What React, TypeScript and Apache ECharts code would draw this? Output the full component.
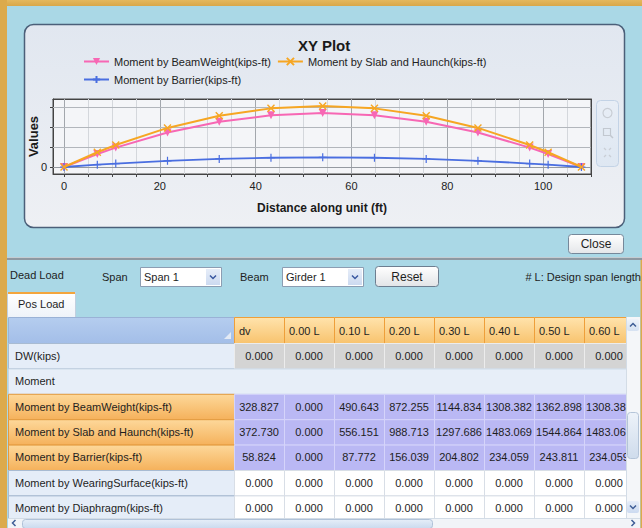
import React, { useEffect, useRef } from 'react';
import * as echarts from 'echarts';

// ---------- chart data ----------
const stationsFt = [0, 6.95, 10.8, 21.6, 32.4, 43.2, 54, 64.8, 75.6, 86.4, 97.2, 101.05, 108];
const momentBeamWeight = [0, 328.827, 490.643, 872.255, 1144.834, 1308.382, 1362.898, 1308.382, 1144.834, 872.255, 490.643, 328.827, 0];
const momentSlabHaunch = [0, 372.73, 556.151, 988.713, 1297.686, 1483.069, 1544.864, 1483.069, 1297.686, 988.713, 556.151, 372.73, 0];
const momentBarrier = [0, 58.824, 87.772, 156.039, 204.802, 234.059, 243.811, 234.059, 204.802, 156.039, 87.772, 58.824, 0];
const seriesNames = [
  'Moment by BeamWeight(kips-ft)',
  'Moment by Slab and Haunch(kips-ft)',
  'Moment by Barrier(kips-ft)',
];
const xLabelValues = [0, 20, 40, 60, 80, 100];
const xTickValues = [0, 5, 10, 15, 20, 25, 30, 35, 40, 45, 50, 55, 60, 65, 70, 75, 80, 85, 90, 95, 100, 105, 110];
const xMajorGrid = [0, 20, 40, 60, 80, 100];
const xMinorGrid = [5, 10, 15, 25, 30, 35, 45, 50, 55, 65, 70, 75, 85, 90, 95, 105];
const yTickValues = [0, 500, 1000, 1500];
const yLabelValues = [0];

// ---------- table data ----------
const tableColumns = ['dv', '0.00 L', '0.10 L', '0.20 L', '0.30 L', '0.40 L', '0.50 L', '0.60 L'];
const tableDW = [0, 0, 0, 0, 0, 0, 0, 0];
const tableBeamWeight = [328.827, 0, 490.643, 872.255, 1144.834, 1308.382, 1362.898, 1308.382];
const tableSlabHaunch = [372.73, 0, 556.151, 988.713, 1297.686, 1483.069, 1544.864, 1483.069];
const tableBarrier = [58.824, 0, 87.772, 156.039, 204.802, 234.059, 243.811, 234.059];
const tableWearing = [0, 0, 0, 0, 0, 0, 0, 0];
const tableDiaphragm = [0, 0, 0, 0, 0, 0, 0, 0];

const FONT = '"Liberation Sans", Arial, Helvetica, sans-serif';

function G(c1: string, c2: string) {
  return new echarts.graphic.LinearGradient(0, 0, 0, 1, [
    { offset: 0, color: c1 },
    { offset: 1, color: c2 },
  ]);
}
function R(x: number, y: number, w: number, h: number, fill: any, stroke?: string, lw = 1, r = 0, z = -10) {
  return {
    type: 'rect', z, silent: true,
    shape: { x, y, width: w, height: h, r },
    style: { fill, stroke: stroke || 'none', lineWidth: stroke ? lw : 0 },
  };
}
function T(x: number, y: number, text: string, o: any = {}) {
  return {
    type: 'text', z: o.z ?? -5, silent: true, x, y,
    style: {
      text, fill: o.color || '#1e1e1e', fontSize: o.size || 11, fontFamily: FONT,
      fontWeight: o.weight || 'normal',
      align: o.align || 'left', textAlign: o.align || 'left',
      verticalAlign: 'middle', textVerticalAlign: 'middle',
    },
  };
}
function chevron(x: number, y: number, dir: 'up' | 'down' | 'left' | 'right', color = '#3F5E96', z = -4) {
  let pts: number[][];
  if (dir === 'down') pts = [[x - 3, y - 1.5], [x, y + 1.5], [x + 3, y - 1.5]];
  else if (dir === 'up') pts = [[x - 3, y + 1.5], [x, y - 1.5], [x + 3, y + 1.5]];
  else if (dir === 'left') pts = [[x + 1.5, y - 3], [x - 1.5, y], [x + 1.5, y + 3]];
  else pts = [[x - 1.5, y - 3], [x + 1.5, y], [x - 1.5, y + 3]];
  return { type: 'polyline', z, silent: true, shape: { points: pts }, style: { stroke: color, lineWidth: 1.5, fill: 'none' } };
}
function L(x1: number, y1: number, x2: number, y2: number, color: string, lw = 1, z = -4) {
  return { type: 'line', z, silent: true, shape: { x1, y1, x2, y2 }, style: { stroke: color, lineWidth: lw } };
}

function buildGraphics() {
  const els: any[] = [];
  const gold = '#DCAA4C';
  // page background
  els.push(R(0, 0, 642, 528, '#AAD8E6', undefined, 1, 0, -20));
  els.push(R(0, 0, 642, 6, G('#E4B85E', '#D9A749'), undefined, 1, 0, -19));
  els.push(R(0, 0, 7, 528, gold, undefined, 1, 0, -19));
  els.push(R(640.5, 258, 1.5, 270, gold, undefined, 1, 0, -19));
  // dialog
  els.push(R(24.5, 24.5, 600, 203, G('#E1E7F0', '#EEF0F4'), '#4B5F79', 1.5, 9, -18));
  // toolbar
  els.push(R(596.5, 100.5, 22, 66, G('#E8EEF6', '#DEE7F2'), '#C3D3E6', 1, 4, -17));
  els.push({ type: 'circle', z: -16, silent: true, shape: { cx: 607.5, cy: 113, r: 4.5 }, style: { fill: 'none', stroke: '#C9CED5', lineWidth: 1.2 } });
  els.push(R(603.5, 128.5, 7, 7, 'none', '#C2C8D0', 1.2, 0, -16));
  els.push(L(610, 135, 613, 138, '#C2C8D0', 1.5, -16));
  els.push(L(604, 148, 606, 150, '#C9CED5', 1.2, -16));
  els.push(L(611, 148, 609, 150, '#C9CED5', 1.2, -16));
  els.push(L(604, 157, 606, 155, '#C9CED5', 1.2, -16));
  els.push(L(611, 157, 609, 155, '#C9CED5', 1.2, -16));
  // close button
  els.push(R(568.5, 234.5, 55, 19, G('#FFFFFF', '#E4E6E9'), '#76889A', 1, 3, -17));
  els.push(T(596, 244, 'Close', { align: 'center', size: 12 }));
  // separator
  els.push(R(7, 257, 635, 1, '#C4CDD3', undefined, 1, 0, -17));
  els.push(R(7, 258, 635, 2, '#8E99A2', undefined, 1, 0, -17));
  // controls row
  els.push(T(10, 275, 'Dead Load'));
  els.push(T(102, 277, 'Span'));
  els.push(R(140.5, 267.5, 81, 19, '#FFFFFF', '#8C9DB2', 1, 0, -17));
  els.push(T(144, 277, 'Span 1'));
  els.push(R(206, 269, 14, 16, G('#E6EDF8', '#CCDAF0'), undefined, 1, 0, -16));
  els.push(chevron(213, 277, 'down', '#3A58A0', -15));
  els.push(T(240, 277, 'Beam'));
  els.push(R(282.5, 267.5, 81, 19, '#FFFFFF', '#8C9DB2', 1, 0, -17));
  els.push(T(286, 277, 'Girder 1'));
  els.push(R(348, 269, 14, 16, G('#E6EDF8', '#CCDAF0'), undefined, 1, 0, -16));
  els.push(chevron(355, 277, 'down', '#3A58A0', -15));
  els.push(R(375.5, 266.5, 63, 20, G('#FFFFFF', '#E2E4E7'), '#6D7E90', 1, 3, -17));
  els.push(T(407, 276.5, 'Reset', { align: 'center', size: 12 }));
  els.push(T(641, 277, '# L: Design span length', { align: 'right' }));
  // tab
  els.push(R(7.5, 292.5, 68, 25, G('#FFFFFF', '#EEF3F9'), '#C0CFDF', 1, 0, -17));
  els.push(R(8, 292, 67, 2, '#F3A53D', undefined, 1, 0, -16));
  els.push(T(18, 304, 'Pos Load'));

  // table
  const tTop = 317, headH = 26, rowH = 25.4;
  const labelX = 8, labelW = 226;
  const colX = tableColumns.map((_, i) => 234 + i * 50);
  const colW = 50;
  els.push(R(8, tTop, 632, 211, '#FFFFFF', undefined, 1, 0, -17));
  // header
  els.push(R(labelX + 0.5, tTop + 0.5, labelW, headH, G('#B5CDEF', '#A3BEE8'), '#9AB2D6', 1, 0, -14));
  els.push({ type: 'polygon', z: -13, silent: true, shape: { points: [[224, 339], [231, 332], [231, 339]] }, style: { fill: '#E3EAF5' } });
  tableColumns.forEach((c, i) => {
    els.push(R(colX[i] + 0.5, tTop + 0.5, colW, headH, G('#FFE3AC', '#F8C36E'), '#EE9F3A', 1, 0, -14));
    els.push(T(colX[i] + 5, tTop + headH / 2 + 0.5, c, { z: -12 }));
  });
  const rows = [
    { label: 'DW(kips)', values: tableDW, kind: 'grey' },
    { label: 'Moment', values: null as number[] | null, kind: 'group' },
    { label: seriesNames[0], values: tableBeamWeight, kind: 'sel' },
    { label: seriesNames[1], values: tableSlabHaunch, kind: 'sel' },
    { label: seriesNames[2], values: tableBarrier, kind: 'sel' },
    { label: 'Moment by WearingSurface(kips-ft)', values: tableWearing, kind: 'plain' },
    { label: 'Moment by Diaphragm(kips-ft)', values: tableDiaphragm, kind: 'plain' },
  ];
  rows.forEach((row, ri) => {
    const y = tTop + headH + ri * rowH;
    const cy = y + rowH / 2;
    if (row.kind === 'group') {
      els.push(R(labelX + 0.5, y + 0.5, 618, rowH, '#E7EEF8', '#C8D5E4', 1, 0, -14));
      els.push(T(15, cy, row.label, { z: -12 }));
      return;
    }
    if (row.kind === 'sel') {
      els.push(R(labelX + 0.5, y + 0.5, labelW, rowH, G('#FDD89A', '#F5B15B'), '#E39A3E', 1, 0, -14));
    } else {
      els.push(R(labelX + 0.5, y + 0.5, labelW, rowH, '#E5EDF8', '#A8BBD2', 1, 0, -14));
    }
    els.push(T(15, cy, row.label, { z: -12 }));
    const fill = row.kind === 'grey' ? '#D4D4D4' : row.kind === 'sel' ? '#BAB8F4' : '#FFFFFF';
    const stroke = row.kind === 'grey' ? '#ECECEC' : row.kind === 'sel' ? '#D5D4FA' : '#D8DEE6';
    (row.values as number[]).forEach((v, ci) => {
      els.push(R(colX[ci] + 0.5, y + 0.5, colW, rowH, fill, stroke, 1, 0, -14));
      els.push(T(colX[ci] + colW / 2, cy, v.toFixed(3), { align: 'center', z: -12 }));
    });
  });
  // vertical scrollbar (covers clipped column)
  els.push(R(626, tTop, 14, 201, '#F4F6F9', undefined, 1, 0, -8));
  els.push(L(626.5, tTop, 626.5, 518, '#D3DCE6', 1, -7));
  els.push(R(627, 319, 12, 12, G('#EEF3FA', '#D6E2F2'), undefined, 1, 2, -7));
  els.push(chevron(633, 325, 'up', '#3F5E96', -6));
  els.push(R(627.5, 412.5, 11, 46, G('#EDF2F9', '#CFDCEC'), '#B4C4D8', 1, 3, -7));
  els.push(R(627, 501, 12, 12, G('#E6EDF8', '#CCDAF0'), undefined, 1, 2, -7));
  els.push(chevron(633, 507, 'down', '#3F5E96', -6));
  // horizontal scrollbar
  els.push(R(8, 518, 632, 10, '#F1F4F8', undefined, 1, 0, -8));
  els.push(L(8, 518.5, 640, 518.5, '#D3DCE6', 1, -7));
  els.push(chevron(14, 523, 'left', '#3F5E96', -6));
  els.push(R(22.5, 519.5, 410, 9, G('#E6EEF8', '#CADAEE'), '#B0C2D8', 1, 3, -7));
  els.push(chevron(633, 523, 'right', '#3F5E96', -6));
  return els;
}

function buildOption(): any {
  const toPairs = (ys: number[]) => stationsFt.map((x, i) => [x, ys[i]]);
  const gridLines: any[] = [];
  xMinorGrid.forEach((v) => gridLines.push({ xAxis: v, lineStyle: { color: '#D4D7DC', width: 1, type: 'solid' } }));
  xMajorGrid.forEach((v) => gridLines.push({ xAxis: v, lineStyle: { color: '#A3A7AD', width: 1, type: 'solid' } }));
  yTickValues.forEach((v) => gridLines.push({ yAxis: v, lineStyle: { color: v === 0 ? '#959AA1' : '#B2B6BC', width: 1, type: 'solid' } }));

  const legendCommon = {
    left: 83, padding: 0, itemGap: 6, itemWidth: 25, itemHeight: 9,
    textStyle: { fontSize: 11, color: '#222', fontFamily: FONT },
  };
  const axisCommon = { type: 'value', splitLine: { show: false } };
  return {
    animation: false,
    textStyle: { fontFamily: FONT },
    title: {
      text: 'XY Plot', left: 298, top: 38, padding: 0,
      textStyle: { fontSize: 15, fontWeight: 'bold', color: '#1a1a1a', fontFamily: FONT },
    },
    legend: [
      { ...legendCommon, top: 56, data: [seriesNames[0], seriesNames[1]] },
      { ...legendCommon, top: 74, data: [seriesNames[2]] },
    ],
    grid: {
      left: 53, top: 99, width: 538, height: 75, show: true,
      backgroundColor: '#F4F5F8', borderColor: '#4A4A4A', borderWidth: 1, containLabel: false,
    },
    xAxis: [
      {
        ...axisCommon, min: -2.3, max: 110, position: 'bottom',
        axisLine: { show: true, onZero: false, lineStyle: { color: '#444', width: 1 } },
        axisTick: { show: true, customValues: xTickValues, length: 3, inside: false, lineStyle: { color: '#444' } },
        axisLabel: { customValues: xLabelValues, fontSize: 11, color: '#222', margin: 6, fontFamily: FONT },
        name: 'Distance along unit (ft)', nameLocation: 'middle', nameGap: 28, nameMoveOverlap: false,
        nameTextStyle: { fontWeight: 'bold', fontSize: 12, color: '#1a1a1a', fontFamily: FONT },
      },
      {
        ...axisCommon, min: -2.3, max: 110, position: 'top',
        axisLine: { show: true, onZero: false, lineStyle: { color: '#444', width: 1 } },
        axisTick: { show: true, customValues: xTickValues, length: 3, inside: true, lineStyle: { color: '#444' } },
        axisLabel: { show: false },
      },
    ],
    yAxis: [
      {
        ...axisCommon, min: -177, max: 1720, position: 'left',
        axisLine: { show: true, onZero: false, lineStyle: { color: '#444', width: 1 } },
        axisTick: { show: true, customValues: yTickValues, length: 3, inside: false, lineStyle: { color: '#444' } },
        axisLabel: { customValues: yLabelValues, fontSize: 11, color: '#222', margin: 6, fontFamily: FONT },
        name: 'Values', nameLocation: 'middle', nameGap: 13, nameRotate: 90, nameMoveOverlap: false,
        nameTextStyle: { fontWeight: 'bold', fontSize: 13, color: '#1a1a1a', fontFamily: FONT },
      },
      {
        ...axisCommon, min: -177, max: 1720, position: 'right',
        axisLine: { show: true, onZero: false, lineStyle: { color: '#444', width: 1 } },
        axisTick: { show: true, customValues: yTickValues, length: 3, inside: true, lineStyle: { color: '#444' } },
        axisLabel: { show: false },
      },
    ],
    series: [
      {
        type: 'line', name: '__grid', data: [], silent: true, symbol: 'none',
        markLine: { silent: true, z: 1, symbol: ['none', 'none'], label: { show: false }, animation: false, data: gridLines },
      },
      {
        type: 'line', name: seriesNames[0], data: toPairs(momentBeamWeight),
        color: '#F767B4', symbol: 'triangle', symbolRotate: 180, symbolSize: 8, showSymbol: true,
        lineStyle: { width: 2, color: '#F767B4' }, itemStyle: { color: '#F767B4' }, z: 3,
      },
      {
        type: 'line', name: seriesNames[1], data: toPairs(momentSlabHaunch),
        color: '#F6A623', symbol: 'path://M0,0L10,10M10,0L0,10', symbolSize: 7, showSymbol: true,
        lineStyle: { width: 2, color: '#F6A623' }, itemStyle: { color: '#F6A623', borderColor: '#F6A623', borderWidth: 1.4 }, z: 4,
      },
      {
        type: 'line', name: seriesNames[2], data: toPairs(momentBarrier),
        color: '#4A6EE0', symbol: 'path://M5,0L5,10M0,5L10,5', symbolSize: 8, showSymbol: true,
        lineStyle: { width: 1.8, color: '#4A6EE0' }, itemStyle: { color: '#4A6EE0', borderColor: '#4A6EE0', borderWidth: 1.2 }, z: 3,
      },
    ],
    graphic: { elements: buildGraphics() },
  };
}

export default function App() {
  const ref = useRef<HTMLDivElement>(null);
  useEffect(() => {
    const chart = echarts.init(ref.current as HTMLDivElement, null, { renderer: 'svg' });
    chart.setOption(buildOption());
    return () => chart.dispose();
  }, []);
  return <div ref={ref} style={{ position: 'absolute', left: 0, top: 0, width: 642, height: 528 }} />;
}
